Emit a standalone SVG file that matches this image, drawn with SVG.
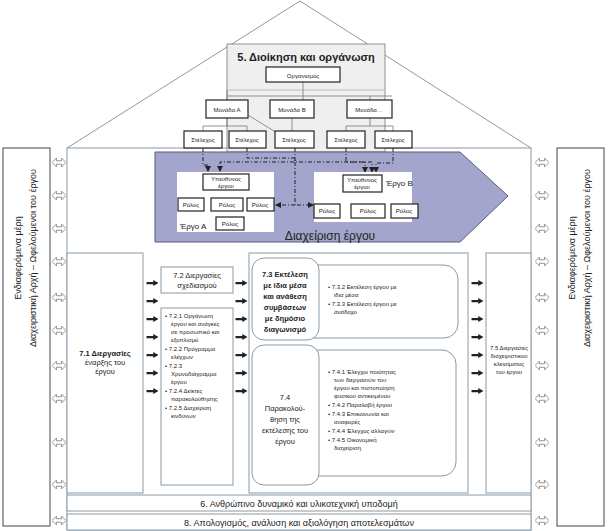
<svg xmlns="http://www.w3.org/2000/svg" width="608" height="531" viewBox="0 0 608 531">
<defs>
<style>
text{font-family:"Liberation Sans","Noto Sans",sans-serif;fill:#222}
.fr{fill:#fff;stroke:#8a9aa8;stroke-width:1}
.bx{fill:#fff;stroke:#222;stroke-width:1.2}
.sm{font-size:6px}
.t7{font-size:7.5px}
.ln{stroke:#777;fill:none;stroke-width:0.8}
.da{stroke:#222;fill:none;stroke-width:1;stroke-dasharray:4 2 1 2}
.dbl{fill:#fff;stroke:#666;stroke-width:0.8}
.ba{fill:#222}
</style>
<marker id="ah" markerWidth="6" markerHeight="6" refX="5" refY="3" orient="auto"><path d="M0,0L6,3L0,6z" fill="#222"/></marker>
<symbol id="dA" viewBox="0 0 16 10"><path d="M0,5L5,0V3H11V0L16,5L11,10V7H5V10Z" class="dbl"/></symbol>
<symbol id="bA" viewBox="0 0 16 8"><path d="M0,2.5H9V0L16,4L9,8V5.5H0Z" class="ba"/></symbol>
</defs>
<rect width="608" height="531" fill="#fff"/>
<g id="house">
<path d="M67,148L300,1L531,148" fill="none" stroke="#8a9aa8" stroke-width="1"/>
<rect x="67" y="148" width="464" height="382" class="fr"/>
</g>
<g id="side-left"><rect x="3" y="148" width="47" height="378" fill="#fff" stroke="#444"/>
<text transform="translate(21,258) rotate(-90)" text-anchor="middle" font-size="9">Ενδιαφερόμενα μέρη</text>
<text transform="translate(36,258) rotate(-90)" text-anchor="middle" font-size="9">Διαχειριστική Αρχή – Ωφελούμενοι του έργου</text></g>
<g id="side-right"><rect x="557" y="148" width="47" height="378" fill="#fff" stroke="#444"/>
<text transform="translate(575,258) rotate(-90)" text-anchor="middle" font-size="9">Ενδιαφερόμενα μέρη</text>
<text transform="translate(590,258) rotate(-90)" text-anchor="middle" font-size="9">Διαχειριστική Αρχή – Ωφελούμενοι του έργου</text></g>
<g id="s5">
<rect x="227" y="44" width="158" height="108" fill="#efefef" stroke="#777" stroke-width="0.8"/>
<line x1="227" y1="90" x2="385" y2="90" stroke="#bbb"/>
<text x="306" y="61" text-anchor="middle" font-size="11" font-weight="bold">5. Διοίκηση και οργάνωση</text>
</g>
<g id="pm">
<path d="M155,152H460L508,196L460,242H155Z" fill="#a3a5cc" stroke="#5a5a80" stroke-width="1"/>
<text x="330" y="240" text-anchor="middle" font-size="12">Διαχείριση έργου</text>
</g>
<g id="connectors">
<path class="ln" d="M303,82V96M227,96H392M227,90V96M303,96V100M227,96V100M370,96V100"/>
<path class="ln" d="M227,118V126H203V131M227,126H247V131M292,118V131M370,118V126H346V131M370,126H393V131"/>
<path class="ln" d="M248,115L282,136"/>
<path class="da" d="M203,148V165H208V171" marker-end="url(#ah)"/>
<path class="da" d="M247,148V158H295V162H220V171" marker-end="url(#ah)"/>
<path class="da" d="M295,148V162H365V172" marker-end="url(#ah)"/>
<path class="da" d="M346,148V162H372V172" marker-end="url(#ah)"/>
<path class="da" d="M393,148V163H376V172" marker-end="url(#ah)"/>
<path class="da" d="M295,162V205H313" marker-end="url(#ah)"/>
<path class="da" d="M295,205H276" marker-end="url(#ah)"/>
<path class="ln" d="M226,190V195H191V198M226,195H260V198M226,195V217"/>
<path class="ln" d="M362,192V200H327V204M362,200H404V204M368,200V204"/>
</g>
<g id="org"><rect x="266" y="67" width="74" height="15" class="bx"/><text x="303" y="78" text-anchor="middle" class="sm">Οργανισμός</text></g>
<g id="monA"><rect x="206" y="100" width="42" height="18" class="bx"/><text x="227" y="112" text-anchor="middle" class="sm">Μονάδα Α</text></g>
<g id="monB"><rect x="270" y="100" width="44" height="18" class="bx"/><text x="292" y="112" text-anchor="middle" class="sm">Μονάδα Β</text></g>
<g id="monC"><rect x="347" y="100" width="45" height="18" class="bx"/><text x="369" y="112" text-anchor="middle" class="sm">Μονάδα…</text></g>
<g id="st1"><rect x="184" y="131" width="38" height="17" class="bx"/><text x="203" y="142" text-anchor="middle" class="sm">Στέλεχος</text></g>
<g id="st2"><rect x="229" y="131" width="37" height="17" class="bx"/><text x="247" y="142" text-anchor="middle" class="sm">Στέλεχος</text></g>
<g id="st3"><rect x="275" y="131" width="39" height="17" class="bx"/><text x="294" y="142" text-anchor="middle" class="sm">Στέλεχος</text></g>
<g id="st4"><rect x="327" y="131" width="38" height="17" class="bx"/><text x="346" y="142" text-anchor="middle" class="sm">Στέλεχος</text></g>
<g id="st5"><rect x="375" y="131" width="37" height="17" class="bx"/><text x="393" y="142" text-anchor="middle" class="sm">Στέλεχος</text></g>
<g id="projA">
<rect x="177" y="172" width="97" height="60" fill="#fff"/>
<rect x="203" y="174" width="46" height="16" class="bx"/><text x="226" y="181" text-anchor="middle" class="sm">Υπεύθυνος</text><text x="226" y="188" text-anchor="middle" class="sm">έργου</text>
<rect x="178" y="198" width="26" height="13" class="bx"/><text x="191" y="207" text-anchor="middle" class="sm">Ρόλος</text>
<rect x="211" y="198" width="32" height="13" class="bx"/><text x="227" y="207" text-anchor="middle" class="sm">Ρόλος</text>
<rect x="247" y="198" width="27" height="13" class="bx"/><text x="260" y="207" text-anchor="middle" class="sm">Ρόλος</text>
<rect x="216" y="217" width="28" height="13" class="bx"/><text x="230" y="226" text-anchor="middle" class="sm">Ρόλος</text>
<text x="180" y="229" font-size="8">Έργο Α</text>
</g>
<g id="projB">
<rect x="314" y="172" width="98" height="50" fill="#fff"/>
<rect x="343" y="175" width="39" height="17" class="bx"/><text x="362" y="182" text-anchor="middle" class="sm">Υπεύθυνος</text><text x="362" y="189" text-anchor="middle" class="sm">έργου</text>
<text x="386" y="186" font-size="8">Έργο Β</text>
<rect x="314" y="204" width="26" height="14" class="bx"/><text x="327" y="213" text-anchor="middle" class="sm">Ρόλος</text>
<rect x="351" y="204" width="34" height="14" class="bx"/><text x="368" y="213" text-anchor="middle" class="sm">Ρόλος</text>
<rect x="391" y="204" width="27" height="14" class="bx"/><text x="404" y="213" text-anchor="middle" class="sm">Ρόλος</text>
</g>
<g id="s71"><rect x="67" y="253" width="76" height="240" class="fr"/>
<text x="105" y="356" text-anchor="middle" class="t7" font-weight="bold">7.1 Διεργασίες</text>
<text x="105" y="365" text-anchor="middle" class="t7">έναρξης του</text>
<text x="105" y="374" text-anchor="middle" class="t7">έργου</text></g>
<g id="s72"><rect x="161" y="267" width="72" height="26" class="fr"/>
<text x="197" y="278" text-anchor="middle" class="t7">7.2 Διεργασίες</text>
<text x="197" y="288" text-anchor="middle" class="t7">σχεδιασμού</text></g>
<g id="s72l"><rect x="161" y="308" width="72" height="177" class="fr"/>
<text class="sm"><tspan x="165" y="318">• 7.2.1 Οργάνωση</tspan><tspan x="171" y="326">έργου και ανάγκες</tspan><tspan x="171" y="334">σε προσωπικό και</tspan><tspan x="171" y="342">εξοπλισμό</tspan><tspan x="165" y="351">• 7.2.2 Πρόγραμμα</tspan><tspan x="171" y="359">ελέγχων</tspan><tspan x="165" y="368">• 7.2.3</tspan><tspan x="171" y="376">Χρονοδιάγραμμα</tspan><tspan x="171" y="384">έργου</tspan><tspan x="165" y="393">• 7.2.4 Δείκτες</tspan><tspan x="171" y="401">παρακολούθησης</tspan><tspan x="165" y="410">• 7.2.5 Διαχείριση</tspan><tspan x="171" y="418">κινδύνων</tspan></text></g>
<g id="s73-74"><rect x="249" y="253" width="219" height="240" class="fr"/></g>
<g id="s73">
<rect x="300" y="265" width="158" height="73" rx="14" fill="#fff" stroke="#8a9aa8"/>
<rect x="252" y="258" width="67" height="82" rx="12" fill="#fff" stroke="#8a9aa8"/>
<text text-anchor="middle" font-size="7.5" font-weight="bold"><tspan x="285" y="277">7.3 Εκτέλεση</tspan><tspan x="285" y="288">με ίδια μέσα</tspan><tspan x="285" y="299">και ανάθεση</tspan><tspan x="285" y="310">συμβάσεων</tspan><tspan x="285" y="321">με δημόσιο</tspan><tspan x="285" y="332">διαγωνισμό</tspan></text>
<text class="sm"><tspan x="328" y="289">• 7.3.2 Εκτέλεση έργου με</tspan><tspan x="334" y="297">ίδια μέσα</tspan><tspan x="328" y="306">• 7.3.3 Εκτέλεση έργου με</tspan><tspan x="334" y="314">ανάδοχο</tspan></text>
</g>
<g id="s74">
<rect x="300" y="350" width="156" height="126" rx="14" fill="#fff" stroke="#8a9aa8"/>
<rect x="252" y="345" width="67" height="140" rx="12" fill="#fff" stroke="#8a9aa8"/>
<text text-anchor="middle" font-size="7.5"><tspan x="285" y="400">7.4</tspan><tspan x="285" y="411">Παρακολού-</tspan><tspan x="285" y="422">θηση της</tspan><tspan x="285" y="433">εκτέλεσης του</tspan><tspan x="285" y="444">έργου</tspan></text>
<text class="sm"><tspan x="328" y="374">• 7.4.1 Έλεγχοι ποιότητας</tspan><tspan x="334" y="382">των διεργασιών του</tspan><tspan x="334" y="390">έργου και πιστοποίηση</tspan><tspan x="334" y="398">φυσικού αντικειμένου</tspan><tspan x="328" y="407">• 7.4.2 Παραλαβή έργου</tspan><tspan x="328" y="416">• 7.4.3 Επικοινωνία και</tspan><tspan x="334" y="424">αναφορές</tspan><tspan x="328" y="433">• 7.4.4 Έλεγχος αλλαγών</tspan><tspan x="328" y="442">• 7.4.5 Οικονομική</tspan><tspan x="334" y="450">διαχείριση</tspan></text>
</g>
<g id="s75"><rect x="486" y="253" width="45" height="240" class="fr"/>
<text text-anchor="middle" font-size="6"><tspan x="509" y="350">7.5 Διεργασίες</tspan><tspan x="509" y="358">διαχειριστικού</tspan><tspan x="509" y="366">κλεισίματος</tspan><tspan x="509" y="374">του έργου</tspan></text></g>
<g id="s6"><rect x="67" y="495" width="464" height="16" class="fr"/><text x="299" y="507" text-anchor="middle" font-size="9">6. Ανθρώπινο δυναμικό και υλικοτεχνική υποδομή</text></g>
<g id="s8"><rect x="67" y="514" width="464" height="16" class="fr"/><text x="299" y="526" text-anchor="middle" font-size="9">8. Απολογισμός, ανάλυση και αξιολόγηση αποτελεσμάτων</text></g>
<g id="arrows">
<use href="#dA" x="52" y="158" width="14" height="9"/><use href="#dA" x="52" y="191" width="14" height="9"/><use href="#dA" x="52" y="224" width="14" height="9"/><use href="#dA" x="52" y="257" width="14" height="9"/><use href="#dA" x="52" y="293" width="14" height="9"/><use href="#dA" x="52" y="326" width="14" height="9"/><use href="#dA" x="52" y="361" width="14" height="9"/><use href="#dA" x="52" y="394" width="14" height="9"/><use href="#dA" x="52" y="438" width="14" height="9"/><use href="#dA" x="52" y="480" width="14" height="9"/><use href="#dA" x="52" y="516" width="14" height="9"/>
<use href="#dA" x="535" y="158" width="14" height="9"/><use href="#dA" x="535" y="191" width="14" height="9"/><use href="#dA" x="535" y="224" width="14" height="9"/><use href="#dA" x="535" y="257" width="14" height="9"/><use href="#dA" x="535" y="293" width="14" height="9"/><use href="#dA" x="535" y="326" width="14" height="9"/><use href="#dA" x="535" y="361" width="14" height="9"/><use href="#dA" x="535" y="394" width="14" height="9"/><use href="#dA" x="535" y="438" width="14" height="9"/><use href="#dA" x="535" y="480" width="14" height="9"/><use href="#dA" x="535" y="516" width="14" height="9"/>
<use href="#bA" x="146" y="280" width="13" height="6"/><use href="#bA" x="146" y="298" width="13" height="6"/><use href="#bA" x="146" y="316" width="13" height="6"/><use href="#bA" x="146" y="334" width="13" height="6"/><use href="#bA" x="146" y="352" width="13" height="6"/><use href="#bA" x="146" y="370" width="13" height="6"/><use href="#bA" x="146" y="388" width="13" height="6"/>
<use href="#bA" x="235" y="280" width="13" height="6"/><use href="#bA" x="235" y="298" width="13" height="6"/><use href="#bA" x="235" y="316" width="13" height="6"/><use href="#bA" x="235" y="334" width="13" height="6"/><use href="#bA" x="235" y="352" width="13" height="6"/><use href="#bA" x="235" y="370" width="13" height="6"/><use href="#bA" x="235" y="388" width="13" height="6"/>
<use href="#bA" x="471" y="280" width="13" height="6"/><use href="#bA" x="471" y="298" width="13" height="6"/><use href="#bA" x="471" y="316" width="13" height="6"/><use href="#bA" x="471" y="334" width="13" height="6"/><use href="#bA" x="471" y="352" width="13" height="6"/><use href="#bA" x="471" y="370" width="13" height="6"/><use href="#bA" x="471" y="388" width="13" height="6"/>
</g>
</svg>
